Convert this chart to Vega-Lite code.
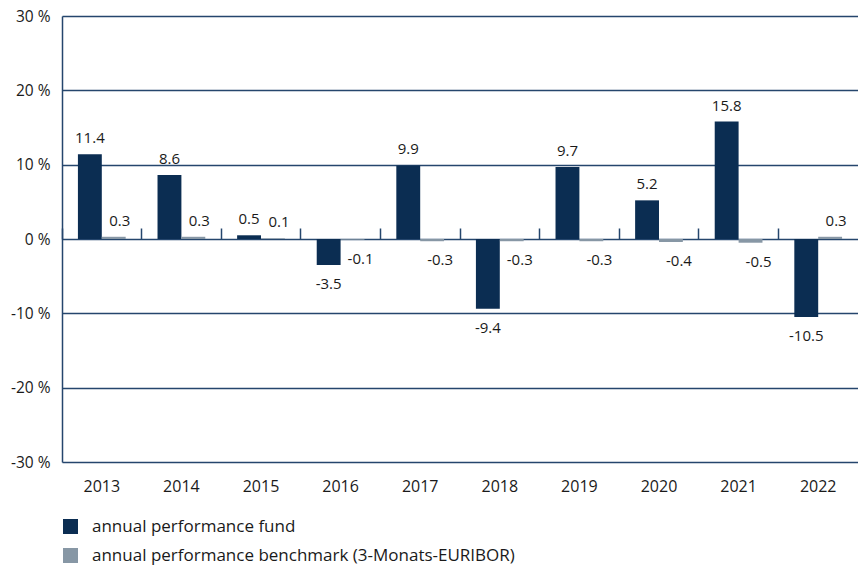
{
  "$schema": "https://vega.github.io/schema/vega-lite/v6.json",
  "width": 796,
  "height": 446,
  "autosize": "none",
  "padding": {"left": 62, "top": 16, "right": 0, "bottom": 106},
  "background": "white",
  "config": {
    "view": {"stroke": null},
    "font": "Open Sans",
    "locale": {"number": {"decimal": ".", "thousands": ",", "grouping": [3], "currency": ["", ""], "minus": "-"}}
  },
  "data": {
    "values": [
      {"year": "2013", "series": "annual performance fund", "value": 11.4},
      {"year": "2013", "series": "annual performance benchmark (3-Monats-EURIBOR)", "value": 0.3},
      {"year": "2014", "series": "annual performance fund", "value": 8.6},
      {"year": "2014", "series": "annual performance benchmark (3-Monats-EURIBOR)", "value": 0.3},
      {"year": "2015", "series": "annual performance fund", "value": 0.5},
      {"year": "2015", "series": "annual performance benchmark (3-Monats-EURIBOR)", "value": 0.1},
      {"year": "2016", "series": "annual performance fund", "value": -3.5},
      {"year": "2016", "series": "annual performance benchmark (3-Monats-EURIBOR)", "value": -0.1},
      {"year": "2017", "series": "annual performance fund", "value": 9.9},
      {"year": "2017", "series": "annual performance benchmark (3-Monats-EURIBOR)", "value": -0.3},
      {"year": "2018", "series": "annual performance fund", "value": -9.4},
      {"year": "2018", "series": "annual performance benchmark (3-Monats-EURIBOR)", "value": -0.3},
      {"year": "2019", "series": "annual performance fund", "value": 9.7},
      {"year": "2019", "series": "annual performance benchmark (3-Monats-EURIBOR)", "value": -0.3},
      {"year": "2020", "series": "annual performance fund", "value": 5.2},
      {"year": "2020", "series": "annual performance benchmark (3-Monats-EURIBOR)", "value": -0.4},
      {"year": "2021", "series": "annual performance fund", "value": 15.8},
      {"year": "2021", "series": "annual performance benchmark (3-Monats-EURIBOR)", "value": -0.5},
      {"year": "2022", "series": "annual performance fund", "value": -10.5},
      {"year": "2022", "series": "annual performance benchmark (3-Monats-EURIBOR)", "value": 0.3}
    ]
  },
  "encoding": {
    "x": {"field": "year", "type": "nominal", "scale": {"paddingInner": 0.4, "paddingOuter": 0.2}},
    "xOffset": {"field": "series", "type": "nominal", "sort": ["annual performance fund", "annual performance benchmark (3-Monats-EURIBOR)"], "scale": {"paddingInner": 0, "paddingOuter": 0}},
    "y": {"field": "value", "type": "quantitative", "scale": {"domain": [-30, 30], "nice": false, "zero": false}}
  },
  "layer": [
    {
      "mark": {"type": "bar"},
      "encoding": {
        "x": {"field": "year", "type": "nominal", "title": null,
          "axis": {"domain": false, "ticks": false, "labelAngle": 0, "labelFontSize": 16, "labelColor": "#1a1a1a", "labelPadding": 16, "labelFont": "Open Sans"}},
        "y": {"field": "value", "type": "quantitative", "title": null,
          "axis": {"values": [-30, -20, -10, 0, 10, 20, 30], "grid": true, "gridColor": "#25466d", "gridWidth": 1.5, "gridOpacity": 1,
            "domain": true, "domainColor": "#25466d", "domainWidth": 1.5, "ticks": false,
            "labelExpr": "datum.value + ' %'", "labelFontSize": 15.5, "labelColor": "#1a1a1a", "labelPadding": 12, "labelFont": "Open Sans"}},
        "color": {"field": "series", "type": "nominal",
          "sort": ["annual performance fund", "annual performance benchmark (3-Monats-EURIBOR)"],
          "scale": {"domain": ["annual performance fund", "annual performance benchmark (3-Monats-EURIBOR)"], "range": ["#0b2d52", "#8797a5"]},
          "legend": {"title": null, "orient": "none", "legendX": 0, "legendY": 502, "direction": "vertical",
            "symbolType": "square", "symbolSize": 225, "symbolStrokeWidth": 0, "symbolOpacity": 1,
            "labelFontSize": 17, "labelColor": "#1a1a1a", "labelOffset": 13, "rowPadding": 11, "labelFont": "Open Sans", "labelLimit": 600}}
      }
    },
    {
      "mark": {"type": "text", "baseline": "alphabetic", "dy": -11, "fontSize": 15, "color": "#1a1a1a"},
      "transform": [{"filter": "datum.series == 'annual performance fund' && datum.value >= 0"}],
      "encoding": {
        "x": {"field": "year", "type": "nominal", "title": null,
          "axis": {"orient": "top", "offset": -223, "labels": false, "domain": false, "grid": false, "ticks": true, "tickSize": 11, "tickWidth": 1.5, "tickColor": "#25466d", "bandPosition": -0.3333}},
        "text": {"field": "value", "type": "quantitative", "format": ".1f"}
      }
    },
    {
      "mark": {"type": "text", "baseline": "top", "dy": 12, "fontSize": 15, "color": "#1a1a1a"},
      "transform": [{"filter": "datum.series == 'annual performance fund' && datum.value < 0"}],
      "encoding": {
        "x": {"field": "year", "type": "nominal", "axis": null},
        "text": {"field": "value", "type": "quantitative", "format": ".1f"}
      }
    },
    {
      "mark": {"type": "text", "baseline": "alphabetic", "dy": -11, "dx": 6, "fontSize": 15, "color": "#1a1a1a"},
      "transform": [{"filter": "datum.series != 'annual performance fund' && datum.value >= 0"}],
      "encoding": {
        "x": {"field": "year", "type": "nominal", "axis": null},
        "text": {"field": "value", "type": "quantitative", "format": ".1f"}
      }
    },
    {
      "mark": {"type": "text", "baseline": "top", "dy": 12, "dx": 8, "fontSize": 15, "color": "#1a1a1a"},
      "transform": [{"filter": "datum.series != 'annual performance fund' && datum.value < 0"}],
      "encoding": {
        "x": {"field": "year", "type": "nominal", "axis": null},
        "text": {"field": "value", "type": "quantitative", "format": ".1f"}
      }
    }
  ],
  "resolve": {"axis": {"x": "independent"}}
}
